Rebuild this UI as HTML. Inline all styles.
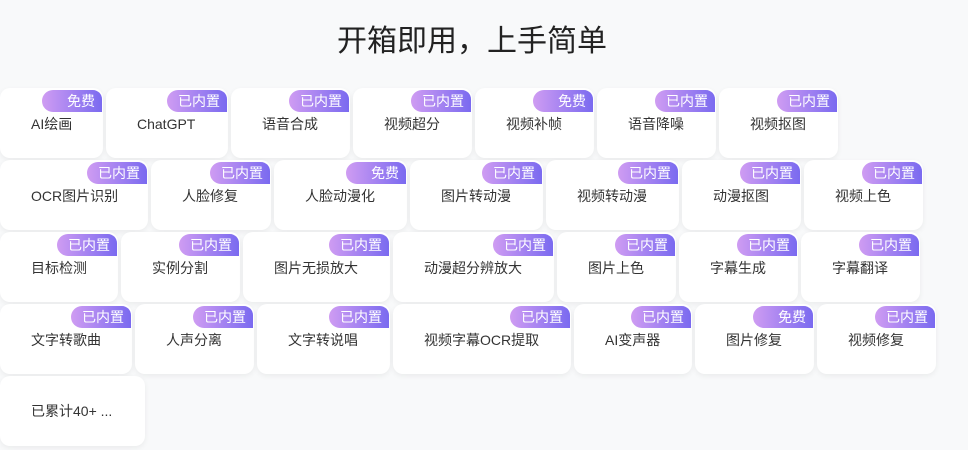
<!DOCTYPE html>
<html><head><meta charset="utf-8"><style>
html,body{margin:0;padding:0}
body{width:968px;height:450px;background:#f8f9fa;position:relative;overflow:hidden;font-family:"Liberation Sans","Noto Sans CJK SC",sans-serif}
h1{position:absolute;left:0;width:944px;top:22px;margin:0;text-align:center;font-weight:400;font-size:30px;color:#222;line-height:40px}
.c{position:absolute;height:70px;background:#fff;border-radius:10px;box-shadow:0 2px 6px rgba(0,0,0,0.06);box-sizing:border-box}
.c span.t{position:absolute;left:31px;top:26px;font-size:14px;color:#333;line-height:20px;white-space:nowrap}
.b{position:absolute;right:1px;top:2px;width:60px;height:22px;border-radius:12px 10px 0 12px;background:linear-gradient(90deg,#cf9cf2,#7a6af0);color:#fff;font-size:14px;line-height:22px;text-align:right;padding-right:7px;box-sizing:border-box}
</style></head><body>
<h1>开箱即用，上手简单</h1>

<div class="c" style="left:0;top:88px;width:103px"><div class="b">免费</div><span class="t">AI绘画</span></div>
<div class="c" style="left:106px;top:88px;width:122px"><div class="b">已内置</div><span class="t">ChatGPT</span></div>
<div class="c" style="left:231px;top:88px;width:119px"><div class="b">已内置</div><span class="t">语音合成</span></div>
<div class="c" style="left:353px;top:88px;width:119px"><div class="b">已内置</div><span class="t">视频超分</span></div>
<div class="c" style="left:475px;top:88px;width:119px"><div class="b">免费</div><span class="t">视频补帧</span></div>
<div class="c" style="left:597px;top:88px;width:119px"><div class="b">已内置</div><span class="t">语音降噪</span></div>
<div class="c" style="left:719px;top:88px;width:119px"><div class="b">已内置</div><span class="t">视频抠图</span></div>

<div class="c" style="left:0;top:160px;width:148px"><div class="b">已内置</div><span class="t">OCR图片识别</span></div>
<div class="c" style="left:151px;top:160px;width:120px"><div class="b">已内置</div><span class="t">人脸修复</span></div>
<div class="c" style="left:274px;top:160px;width:133px"><div class="b">免费</div><span class="t">人脸动漫化</span></div>
<div class="c" style="left:410px;top:160px;width:133px"><div class="b">已内置</div><span class="t">图片转动漫</span></div>
<div class="c" style="left:546px;top:160px;width:133px"><div class="b">已内置</div><span class="t">视频转动漫</span></div>
<div class="c" style="left:682px;top:160px;width:119px"><div class="b">已内置</div><span class="t">动漫抠图</span></div>
<div class="c" style="left:804px;top:160px;width:119px"><div class="b">已内置</div><span class="t">视频上色</span></div>

<div class="c" style="left:0;top:232px;width:118px"><div class="b">已内置</div><span class="t">目标检测</span></div>
<div class="c" style="left:121px;top:232px;width:119px"><div class="b">已内置</div><span class="t">实例分割</span></div>
<div class="c" style="left:243px;top:232px;width:147px"><div class="b">已内置</div><span class="t">图片无损放大</span></div>
<div class="c" style="left:393px;top:232px;width:161px"><div class="b">已内置</div><span class="t">动漫超分辨放大</span></div>
<div class="c" style="left:557px;top:232px;width:119px"><div class="b">已内置</div><span class="t">图片上色</span></div>
<div class="c" style="left:679px;top:232px;width:119px"><div class="b">已内置</div><span class="t">字幕生成</span></div>
<div class="c" style="left:801px;top:232px;width:119px"><div class="b">已内置</div><span class="t">字幕翻译</span></div>

<div class="c" style="left:0;top:304px;width:132px"><div class="b">已内置</div><span class="t">文字转歌曲</span></div>
<div class="c" style="left:135px;top:304px;width:119px"><div class="b">已内置</div><span class="t">人声分离</span></div>
<div class="c" style="left:257px;top:304px;width:133px"><div class="b">已内置</div><span class="t">文字转说唱</span></div>
<div class="c" style="left:393px;top:304px;width:178px"><div class="b">已内置</div><span class="t">视频字幕OCR提取</span></div>
<div class="c" style="left:574px;top:304px;width:118px"><div class="b">已内置</div><span class="t">AI变声器</span></div>
<div class="c" style="left:695px;top:304px;width:119px"><div class="b">免费</div><span class="t">图片修复</span></div>
<div class="c" style="left:817px;top:304px;width:119px"><div class="b">已内置</div><span class="t">视频修复</span></div>

<div class="c" style="left:0;top:376px;width:145px"><span class="t" style="top:25px">已累计40+ ...</span></div>
</body></html>
